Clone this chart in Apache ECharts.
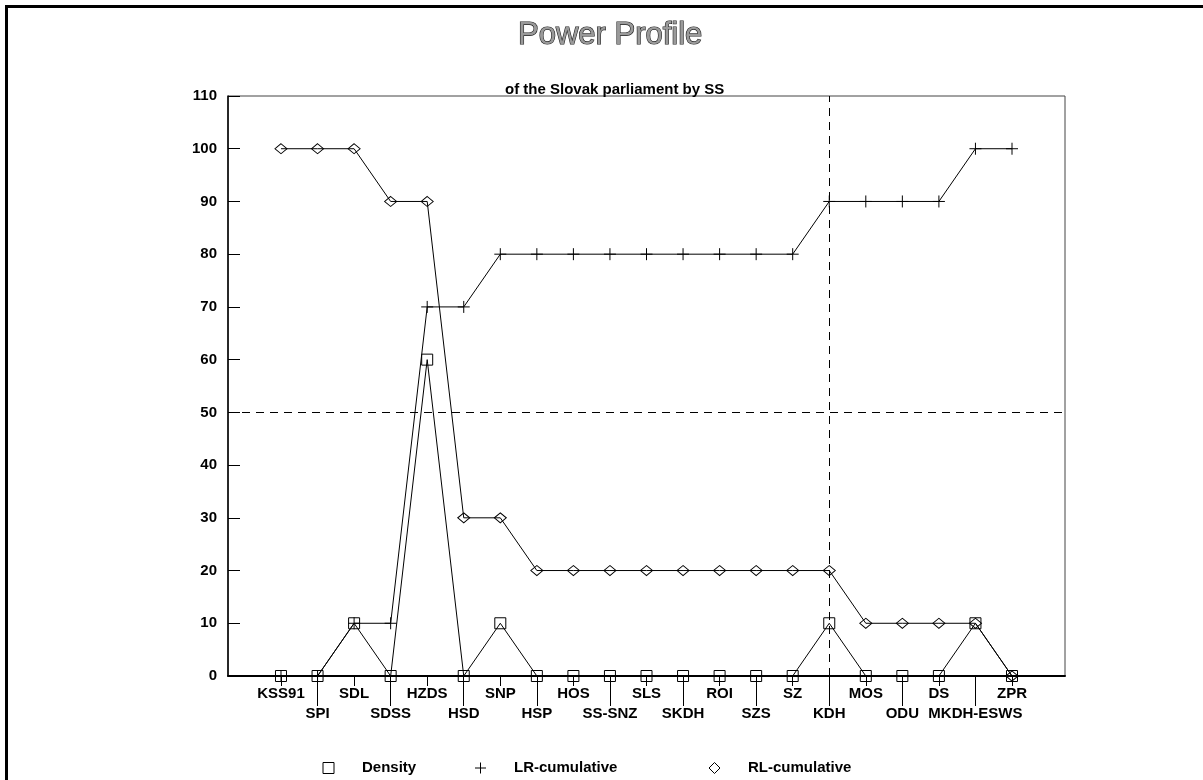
<!DOCTYPE html>
<html>
<head>
<meta charset="utf-8">
<title>Power Profile</title>
<script src="https://cdn.jsdelivr.net/npm/echarts@6.0.0/dist/echarts.min.js"></script>
<style>
  html, body { margin: 0; padding: 0; background: #fff; }
  #chart { width: 1203px; height: 780px; }
</style>
</head>
<body>
<div id="chart"></div>
<script>
// parties, left to right
const categories = ['KSS91', 'SPI', 'SDL', 'SDSS', 'HZDS', 'HSD', 'SNP', 'HSP', 'HOS', 'SS-SNZ',
  'SLS', 'SKDH', 'ROI', 'SZS', 'SZ', 'KDH', 'MOS', 'ODU', 'DS', 'MKDH-ESWS', 'ZPR'];
const density = [0, 0, 10, 0, 60, 0, 10, 0, 0, 0, 0, 0, 0, 0, 0, 10, 0, 0, 0, 10, 0];
const lrCumulative = [0, 0, 10, 10, 70, 70, 80, 80, 80, 80, 80, 80, 80, 80, 80, 90, 90, 90, 90, 100, 100];
const rlCumulative = [100, 100, 100, 90, 90, 30, 30, 20, 20, 20, 20, 20, 20, 20, 20, 20, 10, 10, 10, 10, 0];
const yTicks = [0, 10, 20, 30, 40, 50, 60, 70, 80, 90, 100, 110];
const medianLine = 50;
const medianParty = 'KDH';

const font = 'Liberation Sans, Arial, sans-serif';
const plusPath = 'path://M0,6H12M6,0V12';
const evenIdx = categories.map((c, i) => i).filter(i => i % 2 === 0);
const oddIdx = categories.map((c, i) => i).filter(i => i % 2 === 1);
const toPoints = arr => arr.map((v, i) => [i, v]);

const hollow = { color: 'none', borderColor: '#000', borderWidth: 1 };
const labelStyle = { color: '#000', fontFamily: font, fontSize: 15, fontWeight: 'bold' };

function xAxisFor(idx, tickLen, margin, showLine) {
  return {
    type: 'value',
    position: 'bottom',
    offset: 0,
    min: -1.45,
    max: 21.45,
    splitLine: { show: false },
    axisLine: { show: showLine, onZero: false, lineStyle: { color: '#000', width: 2 } },
    axisTick: { customValues: idx, length: tickLen, lineStyle: { color: '#000', width: 1 } },
    axisLabel: Object.assign({ customValues: idx, margin: margin, formatter: v => categories[v] }, labelStyle)
  };
}

function legendFor(name, icon, left) {
  return {
    data: [name],
    left: left,
    top: 755,
    icon: icon,
    itemWidth: 11,
    itemHeight: 11,
    itemStyle: hollow,
    lineStyle: { width: 0 },
    selectedMode: false,
    textStyle: Object.assign({ padding: [0, 0, 0, 23] }, labelStyle)
  };
}

const chart = echarts.init(document.getElementById('chart'), null, { renderer: 'canvas' });

chart.setOption({
  animation: false,
  backgroundColor: '#fff',
  title: [
    {
      text: 'Power Profile',
      left: 513,
      top: 15,
      textStyle: { fontFamily: font, fontSize: 31, fontWeight: 'normal', color: '#9a9a9a',
        textBorderColor: '#222', textBorderWidth: 1.2 }
    },
    {
      text: 'of the Slovak parliament by SS',
      left: 500,
      top: 77,
      textStyle: { fontFamily: font, fontSize: 15, fontWeight: 'bold', color: '#000' }
    }
  ],
  graphic: [
    {
      type: 'rect',
      silent: true,
      z: -1,
      shape: { x: 6.5, y: 6.5, width: 1300, height: 900 },
      style: { fill: 'none', stroke: '#000', lineWidth: 3 }
    }
  ],
  legend: [
    legendFor('Density', 'rect', 315.5),
    legendFor('LR-cumulative', plusPath, 467.5),
    legendFor('RL-cumulative', 'diamond', 701.5)
  ],
  grid: {
    left: 228,
    right: 138,
    top: 96,
    bottom: 104,
    show: true,
    borderColor: '#444',
    borderWidth: 1
  },
  xAxis: [
    xAxisFor(evenIdx, 10, 10, true),
    xAxisFor(oddIdx, 30, 30, false)
  ],
  yAxis: {
    type: 'value',
    min: yTicks[0],
    max: yTicks[yTicks.length - 1],
    interval: 10,
    splitLine: { show: false },
    axisLine: { show: true, onZero: false, lineStyle: { color: '#000', width: 1.5 } },
    axisTick: { inside: true, length: 12, lineStyle: { color: '#000' } },
    axisLabel: Object.assign({ margin: 11 }, labelStyle)
  },
  series: [
    {
      name: 'Density',
      type: 'line',
      data: toPoints(density),
      symbol: 'rect',
      symbolSize: 11,
      itemStyle: hollow,
      lineStyle: { color: '#000', width: 1 },
      emphasis: { disabled: true },
      markLine: {
        silent: true,
        symbol: 'none',
        label: { show: false },
        lineStyle: { color: '#000', width: 1, type: [8, 6] },
        data: [{ yAxis: medianLine }, { xAxis: categories.indexOf(medianParty) }]
      }
    },
    {
      name: 'LR-cumulative',
      type: 'line',
      data: toPoints(lrCumulative),
      symbol: plusPath,
      symbolSize: 12,
      itemStyle: hollow,
      lineStyle: { color: '#000', width: 1 },
      emphasis: { disabled: true }
    },
    {
      name: 'RL-cumulative',
      type: 'line',
      data: toPoints(rlCumulative),
      symbol: 'diamond',
      symbolSize: [12, 10],
      itemStyle: hollow,
      lineStyle: { color: '#000', width: 1 },
      emphasis: { disabled: true }
    }
  ]
});
</script>
</body>
</html>
